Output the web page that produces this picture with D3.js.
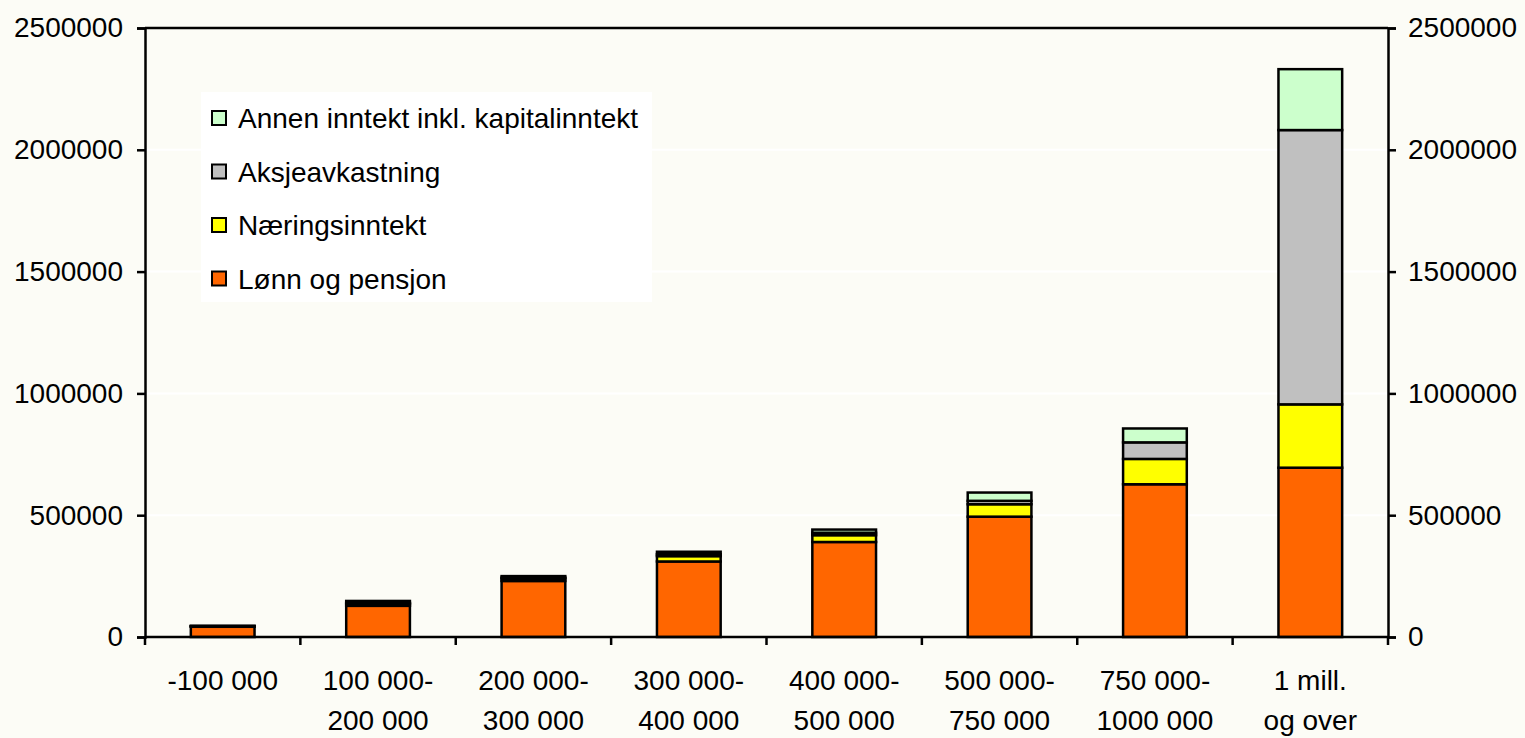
<!DOCTYPE html>
<html><head><meta charset="utf-8">
<script src="https://cdn.jsdelivr.net/npm/d3@7"></script>
<style>
html,body{margin:0;padding:0;background:#FCFCF6;}
svg{display:block;font-family:"Liberation Sans",Arial,sans-serif;}
</style></head>
<body><svg id="c" width="1525" height="738"></svg>
<script>
const categories = ["-100 000","100 000-\n200 000","200 000-\n300 000","300 000-\n400 000","400 000-\n500 000","500 000-\n750 000","750 000-\n1000 000","1 mill.\nog over"];
const seriesNames = ["Lønn og pensjon","Næringsinntekt","Aksjeavkastning","Annen inntekt inkl. kapitalinntekt"];
const lonn   = [42000, 128000, 230000, 310000, 390000, 494000, 627000, 695000];
const naering= [2000, 8000, 10000, 22000, 28000, 51000, 104000, 260000];
const aksje  = [1000, 4000, 4000, 8000, 10000, 14000, 68000, 1126000];
const annen  = [1000, 8000, 6000, 10000, 13000, 34000, 57000, 250000];
const yTicks = [0, 500000, 1000000, 1500000, 2000000, 2500000];
const colors = ["#FF6600","#FFFF00","#C0C0C0","#CCFFCC"];

const svg = d3.select("#c");
const L = 145, R = 1388, T = 28, B = 637;
const x = d3.scaleBand().domain(categories).range([L, R]).paddingInner(0.59).paddingOuter(0.295);
const xb = d3.scaleBand().domain(categories).range([L, R]);
const y = d3.scaleLinear().domain([0, 2500000]).range([B, T]);

// gridlines
svg.append("g").selectAll("line").data(yTicks.slice(1,-1)).join("line")
  .attr("x1", L).attr("x2", R).attr("y1", d=>y(d)).attr("y2", d=>y(d))
  .attr("stroke", "#ffffff").attr("stroke-width", 2);

// stacked bars
const rows = categories.map((c,i)=>({cat:c, s0:lonn[i], s1:naering[i], s2:aksje[i], s3:annen[i]}));
const stack = d3.stack().keys(["s0","s1","s2","s3"])(rows);
svg.append("g").selectAll("g").data(stack).join("g")
  .attr("fill", (d,i)=>colors[i])
  .selectAll("rect").data(d=>d).join("rect")
  .attr("x", d=>x(d.data.cat)).attr("width", x.bandwidth())
  .attr("y", d=>y(d[1])).attr("height", d=>y(d[0])-y(d[1]))
  .attr("stroke", "#000").attr("stroke-width", 2.5);

// top frame line
svg.append("line").attr("x1", L).attr("x2", R).attr("y1", T).attr("y2", T).attr("stroke","#000").attr("stroke-width",2.5);

// axes
const fmt = d3.format("d");
const yl = svg.append("g").attr("transform", `translate(${L},0)`)
  .call(d3.axisLeft(y).tickValues(yTicks).tickFormat(fmt).tickSize(8).tickPadding(14));
const yr = svg.append("g").attr("transform", `translate(${R},0)`)
  .call(d3.axisRight(y).tickValues(yTicks).tickFormat(fmt).tickSize(8).tickPadding(12));
const xa = svg.append("g").attr("transform", `translate(0,${B})`)
  .call(d3.axisBottom(xb).tickValues([]).tickSizeOuter(0));
// x boundary ticks
xa.selectAll("line.bt").data(d3.range(categories.length+1)).join("line")
  .attr("class","bt")
  .attr("x1", i=>L + i*xb.step()).attr("x2", i=>L + i*xb.step())
  .attr("y1", 0).attr("y2", 8).attr("stroke","#000").attr("stroke-width",2.5);
[yl, yr, xa].forEach(g=>{
  g.select(".domain").attr("stroke","#000").attr("stroke-width",2.5);
  g.selectAll(".tick line").attr("stroke","#000").attr("stroke-width",2.5);
  g.selectAll("text").attr("font-size", 28).attr("fill","#000").attr("font-family","Liberation Sans, Arial, sans-serif");
});
xa.select(".domain").attr("d", `M${L},0H${R}`);

// x labels (two lines)
const xl = svg.append("g").selectAll("text").data(categories).join("text")
  .attr("text-anchor","middle").attr("font-size",28).attr("fill","#000")
  .attr("transform", d=>`translate(${xb(d)+xb.bandwidth()/2},0)`);
xl.each(function(d){
  const parts = d.split("\n");
  d3.select(this).selectAll("tspan").data(parts).join("tspan")
    .attr("x",0).attr("y",(p,i)=>690 + i*40).text(p=>p);
});

// legend
const lg = svg.append("g");
lg.append("rect").attr("x",201).attr("y",92).attr("width",451).attr("height",210).attr("fill","#ffffff");
const legendOrder = [3,2,1,0];
legendOrder.forEach((si,k)=>{
  const cy = 118 + k*53.5;
  lg.append("rect").attr("x",212).attr("y",cy-7).attr("width",14).attr("height",14)
    .attr("fill",colors[si]).attr("stroke","#000").attr("stroke-width",2);
  lg.append("text").attr("x",238).attr("y",cy+10).attr("font-size",28).attr("fill","#000").text(seriesNames[si]);
});
</script></body></html>
